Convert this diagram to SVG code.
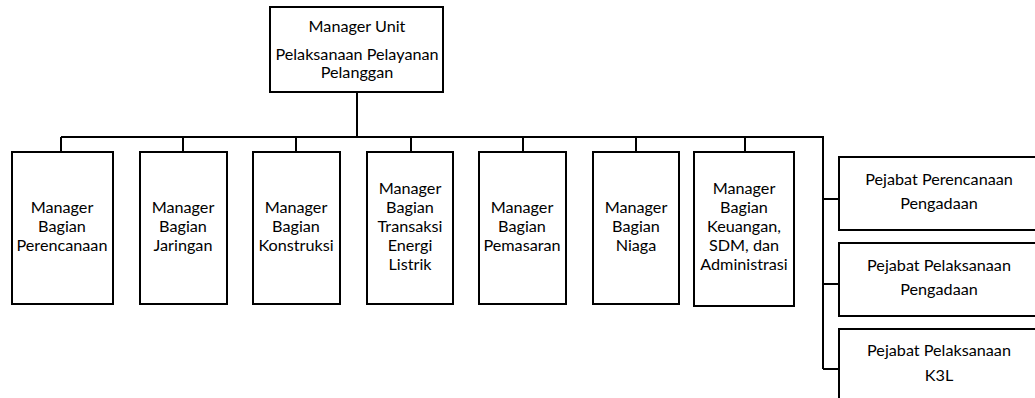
<svg xmlns="http://www.w3.org/2000/svg" width="1035" height="398" viewBox="0 0 1035 398">
<style>
.b{fill:#fff;stroke:#000;stroke-width:2}
.c{fill:none;stroke:#000;stroke-width:2}
text{font-family:Lato,"Liberation Sans",sans-serif;font-size:16.2px;fill:#000;text-anchor:middle}
</style>
<rect width="1035" height="398" fill="#fff"/>
<g id="connectors">
<path class="c" d="M357 92V137M61 137H823V369M61 137V152M183 137V152M296 137V152M411 137V152M523 137V152M636 137V152M745 137V152M823 199H839M823 284H839M823 369H839"/>
</g>
<g id="top"><rect class="b" x="270" y="7" width="173" height="85"/>
<text x="357" y="32">Manager Unit</text><text x="357" y="60">Pelaksanaan Pelayanan</text><text x="357" y="78">Pelanggan</text></g>
<g id="n1"><rect class="b" x="12" y="152" width="101" height="152"/>
<text x="62" y="213">Manager</text><text x="62" y="232">Bagian</text><text x="62" y="251">Perencanaan</text></g>
<g id="n2"><rect class="b" x="140" y="152" width="87" height="152"/>
<text x="183" y="213">Manager</text><text x="183" y="232">Bagian</text><text x="183" y="251">Jaringan</text></g>
<g id="n3"><rect class="b" x="253" y="152" width="87" height="152"/>
<text x="296" y="213">Manager</text><text x="296" y="232">Bagian</text><text x="296" y="251">Konstruksi</text></g>
<g id="n4"><rect class="b" x="367" y="152" width="86" height="152"/>
<text x="410" y="194">Manager</text><text x="410" y="213">Bagian</text><text x="410" y="232">Transaksi</text><text x="410" y="251">Energi</text><text x="410" y="270">Listrik</text></g>
<g id="n5"><rect class="b" x="479" y="152" width="87" height="152"/>
<text x="522" y="213">Manager</text><text x="522" y="232">Bagian</text><text x="522" y="251">Pemasaran</text></g>
<g id="n6"><rect class="b" x="593" y="152" width="86" height="152"/>
<text x="636" y="213">Manager</text><text x="636" y="232">Bagian</text><text x="636" y="251">Niaga</text></g>
<g id="n7"><rect class="b" x="694" y="152" width="100" height="154"/>
<text x="744" y="194">Manager</text><text x="744" y="213">Bagian</text><text x="744" y="232">Keuangan,</text><text x="744" y="251">SDM, dan</text><text x="744" y="270">Administrasi</text></g>
<g id="r1"><rect class="b" x="839" y="157" width="210" height="73"/>
<text x="939" y="185">Pejabat Perencanaan</text><text x="939" y="209">Pengadaan</text></g>
<g id="r2"><rect class="b" x="839" y="243" width="210" height="73"/>
<text x="939" y="271">Pejabat Pelaksanaan</text><text x="939" y="295">Pengadaan</text></g>
<g id="r3"><rect class="b" x="839" y="329" width="210" height="80"/>
<text x="939" y="356">Pejabat Pelaksanaan</text><text x="939" y="381">K3L</text></g>
</svg>
